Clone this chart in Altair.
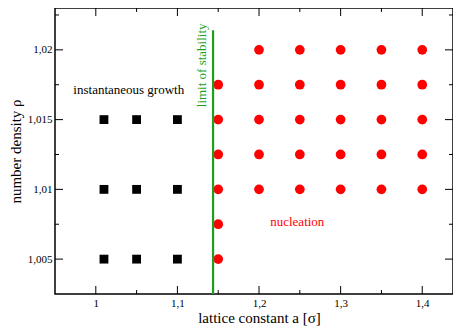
import altair as alt
import pandas as pd

# --- data ---
sq_x = [1.01, 1.05, 1.10, 1.01, 1.05, 1.10, 1.01, 1.05, 1.10]
sq_y = [1.005, 1.005, 1.005, 1.010, 1.010, 1.010, 1.015, 1.015, 1.015]

ci_x = [1.15, 1.15, 1.15, 1.15, 1.15, 1.15,
        1.20, 1.20, 1.20, 1.20, 1.20,
        1.25, 1.25, 1.25, 1.25, 1.25,
        1.30, 1.30, 1.30, 1.30, 1.30,
        1.35, 1.35, 1.35, 1.35, 1.35,
        1.40, 1.40, 1.40, 1.40, 1.40]
ci_y = [1.005, 1.0075, 1.010, 1.0125, 1.015, 1.0175,
        1.010, 1.0125, 1.015, 1.0175, 1.020,
        1.010, 1.0125, 1.015, 1.0175, 1.020,
        1.010, 1.0125, 1.015, 1.0175, 1.020,
        1.010, 1.0125, 1.015, 1.0175, 1.020,
        1.010, 1.0125, 1.015, 1.0175, 1.020]

limit_x = [1.1437]
limit_y_top = [1.0214]
limit_y_bottom = [1.0025]

ann_text = ["instantaneous growth", "nucleation", "limit of stability"]
ann_x = [1.0404, 1.2469, 1.1305]
ann_y = [1.01713, 1.00766, 1.01889]
ann_color = ["black", "red", "#1f9f1f"]
ann_angle = [0, 0, 270]

x_major = [1.0, 1.1, 1.2, 1.3, 1.4]
x_minor = [1.05, 1.15, 1.25, 1.35]
y_major = [1.005, 1.010, 1.015, 1.020]
y_minor = [1.0075, 1.0125, 1.0175, 1.0225]

x_domain = [0.95, 1.4377]
y_domain = [1.0025, 1.023]

W, H = 398, 286
FONT = "Liberation Serif"
GREEN = "#1f9f1f"

xs = alt.Scale(domain=x_domain, nice=False, zero=False)
ys = alt.Scale(domain=y_domain, nice=False, zero=False)

x_axis = alt.Axis(values=x_major, format=".2~f", labelExpr="replace(datum.label, '.', ',')",
                  ticks=False, domain=False, grid=False, labelPadding=3,
                  title="lattice constant a [σ]", titlePadding=2, titleX=204)
y_axis = alt.Axis(values=y_major, format=".3~f", labelExpr="replace(datum.label, '.', ',')",
                  ticks=False, domain=False, grid=False, labelPadding=3,
                  title="number density ρ", titlePadding=4)

sq_df = pd.DataFrame({"a": sq_x, "rho": sq_y})
ci_df = pd.DataFrame({"a": ci_x, "rho": ci_y})

squares = alt.Chart(sq_df).mark_square(size=78, color="black", opacity=1).encode(
    x=alt.X("a:Q", scale=xs, axis=x_axis),
    y=alt.Y("rho:Q", scale=ys, axis=y_axis),
)
circles = alt.Chart(ci_df).mark_circle(size=95, color="#ff0000", opacity=1).encode(
    x=alt.X("a:Q", scale=xs),
    y=alt.Y("rho:Q", scale=ys),
)

lim_df = pd.DataFrame({"a": limit_x, "y1": limit_y_top, "y2": limit_y_bottom})
limit = alt.Chart(lim_df).mark_rule(color=GREEN, strokeWidth=2.2).encode(
    x=alt.X("a:Q", scale=xs),
    y=alt.Y("y1:Q", scale=ys),
    y2="y2:Q",
)

ann_df = pd.DataFrame({"t": ann_text, "a": ann_x, "rho": ann_y})
texts = []
for i in range(len(ann_text)):
    texts.append(
        alt.Chart(ann_df.iloc[[i]]).mark_text(
            font=FONT, fontSize=13, color=ann_color[i], angle=ann_angle[i],
            align="center", baseline="middle",
        ).encode(
            x=alt.X("a:Q", scale=xs),
            y=alt.Y("rho:Q", scale=ys),
            text="t:N",
        )
    )

def xticks(vals, length):
    df = pd.DataFrame({"v": vals})
    bottom = alt.Chart(df).mark_rule(color="black", strokeWidth=1).encode(
        x=alt.X("v:Q", scale=xs), y=alt.value(H), y2=alt.value(H - length))
    top = alt.Chart(df).mark_rule(color="black", strokeWidth=1).encode(
        x=alt.X("v:Q", scale=xs), y=alt.value(0), y2=alt.value(length))
    return [bottom, top]

def yticks(vals, length):
    df = pd.DataFrame({"v": vals})
    left = alt.Chart(df).mark_rule(color="black", strokeWidth=1).encode(
        y=alt.Y("v:Q", scale=ys), x=alt.value(0), x2=alt.value(length))
    right = alt.Chart(df).mark_rule(color="black", strokeWidth=1).encode(
        y=alt.Y("v:Q", scale=ys), x=alt.value(W), x2=alt.value(W - length))
    return [left, right]

ticks = xticks(x_major, 8) + xticks(x_minor, 4) + yticks(y_major, 8) + yticks(y_minor, 4)

chart = alt.layer(squares, circles, limit, *texts, *ticks).properties(
    width=W, height=H,
    background="white",
    autosize=alt.AutoSizeParams(type="none"),
    padding={"left": 47, "top": 0, "right": 0, "bottom": 32},
).configure_view(
    stroke="black", strokeWidth=1.5
).configure_axis(
    labelFont=FONT, labelFontSize=11, labelColor="black",
    titleFont=FONT, titleFontSize=15, titleFontWeight="normal", titleColor="black",
)

chart.save("out.html", embed_options={"renderer": "svg", "actions": False})
